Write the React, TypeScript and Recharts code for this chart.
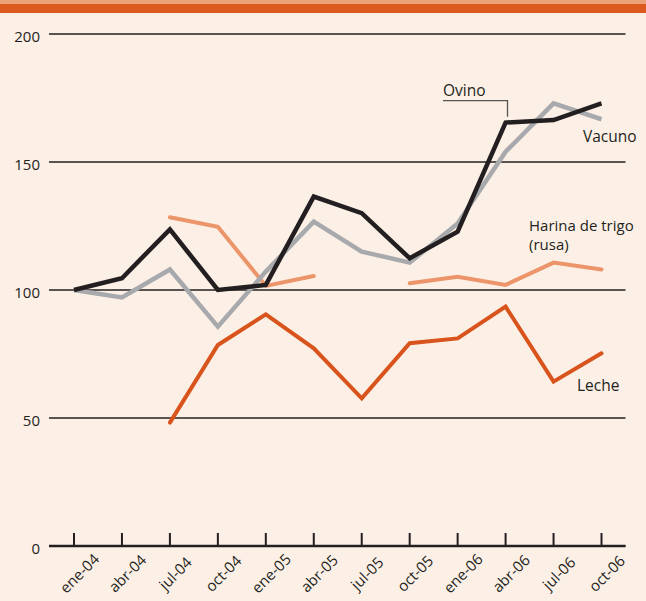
import React from 'react';
import { LineChart, Line, XAxis, YAxis, CartesianGrid, Customized } from 'recharts';

const months = ['ene-04', 'abr-04', 'jul-04', 'oct-04', 'ene-05', 'abr-05', 'jul-05', 'oct-05', 'ene-06', 'abr-06', 'jul-06', 'oct-06'];
const ovino = [100, 104.6, 123.7, 100, 102, 136.5, 130, 112.4, 122.8, 165.4, 166.4, 172.9];
const vacuno = [100, 97.1, 108, 85.7, 107.2, 126.7, 115, 110.7, 126, 154, 172.9, 166.7];
const harina = [null, null, 128.4, 124.7, 101.6, 105.5, null, 102.6, 105.2, 102, 110.7, 108];
const leche = [null, null, 48.2, 78.5, 90.5, 77.2, 57.7, 79.2, 81.1, 93.5, 64.2, 75.3];
const yTicks = [0, 50, 100, 150, 200];

const data = months.map((m, i) => ({
  month: m,
  ovino: ovino[i],
  vacuno: vacuno[i],
  harina: harina[i],
  leche: leche[i],
}));

const FONT = '"Open Sans", sans-serif';
const INK = '#231f20';

const XTick = ({ x, y, payload }: any) => (
  <g>
    <line x1={x} x2={x} y1={y - 13} y2={y} stroke={INK} strokeWidth={2} />
    <text
      transform={`translate(${x + 5},${y + 27}) rotate(-45)`}
      textAnchor="middle"
      dominantBaseline="central"
      fontFamily={FONT}
      fontSize={15}
      fill={INK}
    >
      {payload.value}
    </text>
  </g>
);

const Annotations = () => (
  <g fontFamily={FONT} fontSize={15.5} fill={INK}>
    <text x={443} y={95.5}>Ovino</text>
    <polyline points="443,100.7 507.5,100.7 507.5,116.7" fill="none" stroke="#555" strokeWidth={1.3} />
    <text x={583} y={141.5}>Vacuno</text>
    <text x={529} y={230.5} fontSize={15}>Harina de trigo</text>
    <text x={529} y={250} fontSize={15}>(rusa)</text>
    <text x={577} y={391}>Leche</text>
  </g>
);

export default function App() {
  return (
    <div style={{ position: 'absolute', left: 0, top: 0, width: 646, height: 601, background: '#fcefe6', overflow: 'hidden' }}>
      <div style={{ position: 'absolute', left: 0, top: 0, width: 646, height: 4, background: '#eea27a' }} />
      <div style={{ position: 'absolute', left: 0, top: 4, width: 646, height: 9, background: '#dc5a20' }} />
      <LineChart width={646} height={601} data={data} margin={{ top: 34, right: 20.5, bottom: 0, left: 0 }}>
        <CartesianGrid vertical={false} stroke={INK} strokeWidth={1.3} />
        <XAxis
          dataKey="month"
          height={55}
          padding={{ left: 25, right: 24 }}
          axisLine={{ stroke: INK, strokeWidth: 2.5 }}
          tickLine={false}
          tickSize={0}
          tickMargin={0}
          interval={0}
          tick={<XTick />}
        />
        <YAxis
          domain={[0, 200]}
          ticks={yTicks}
          width={49}
          axisLine={false}
          tickLine={false}
          tickSize={0}
          tickMargin={9}
          tick={{ fontFamily: FONT, fontSize: 15, fill: INK, dy: 3 }}
        />
        <Line dataKey="harina" stroke="#ec956a" strokeWidth={4} dot={false} strokeLinecap="round" isAnimationActive={false} />
        <Line dataKey="leche" stroke="#d9541c" strokeWidth={4} dot={false} strokeLinecap="round" isAnimationActive={false} />
        <Line type="linear" dataKey="vacuno" stroke="#a7a9ac" strokeWidth={4.5} dot={false} isAnimationActive={false} />
        <Line type="linear" dataKey="ovino" stroke={INK} strokeWidth={4.5} dot={false} isAnimationActive={false} />
        <Customized component={Annotations} />
      </LineChart>
    </div>
  );
}
